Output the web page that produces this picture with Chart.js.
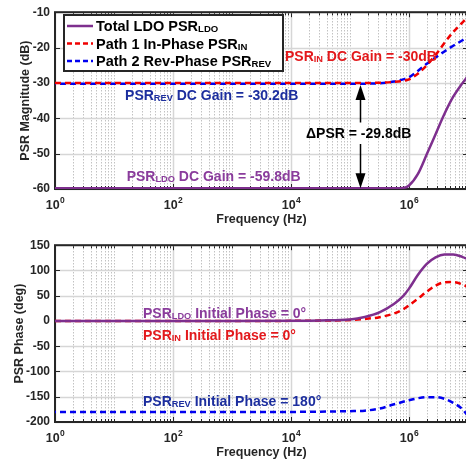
<!DOCTYPE html>
<html><head><meta charset="utf-8">
<script src="https://cdn.jsdelivr.net/npm/chart.js@4.4.0/dist/chart.umd.min.js"></script>
<style>
html,body{margin:0;padding:0;background:#fff;overflow:hidden;}
#wrap{width:466px;height:466px;overflow:hidden;position:relative;background:#fff;}
canvas{display:block;}
</style></head><body>
<div id="wrap"><canvas id="mag" width="468" height="233"></canvas><canvas id="ph" width="468" height="233"></canvas></div>
<script>
// ---------------- data ----------------
const freqHz = [1, 10, 100, 1e3, 1e4, 3.16e4, 1e5, 1.78e5, 3.16e5, 5.62e5, 7.94e5, 1e6, 1.41e6, 2e6, 2.82e6, 3.98e6, 5.62e6, 7.94e6, 1e7];
const magLdo = [-59.8,-59.8,-59.8,-59.8,-59.8,-59.8,-59.8,-59.8,-59.8,-59.8,-59.7,-59.0,-55.8,-50.2,-44.5,-38.8,-33.9,-30.2,-28.0];
const magIn  = [-30,-30,-30,-30,-30,-30,-30,-30,-29.95,-29.7,-29.4,-29.0,-27.4,-25.0,-22.1,-18.7,-15.6,-13.0,-11.3];
const magRev = [-30.2,-30.2,-30.2,-30.2,-30.2,-30.2,-30.2,-30.2,-30.1,-29.6,-29.0,-28.4,-26.6,-24.6,-22.8,-21.1,-19.5,-18.0,-17.0];
const phLdo  = [0,0,0,0,0.3,1,3,8,17,34,49,64,91,113,126,131.5,131.5,127,122];
const phIn   = [0,0,0,0,0.2,0.7,2,4,7.5,15,23,31,44,58,70,76.5,77,72.5,67];
const phRev  = [-180,-180,-180,-180,-180,-179.5,-178.5,-177.5,-173.5,-165,-160,-157,-153,-150.8,-150.8,-154,-162,-174,-188];
const xTickExponents = [0, 2, 4, 6];
const seriesNames = ['Total LDO PSR', 'Path 1 In-Phase PSR', 'Path 2 Rev-Phase PSR'];
const seriesSubs = ['LDO', 'IN', 'REV'];

// ---------------- styles ----------------
const FONT = "'Liberation Sans', Arial, Helvetica, sans-serif";
const AX = '#262626';
const C_LDO = '#7e2f8e', C_IN = '#f00000', C_REV = '#0000f0';
const T_LDO = '#8a3c9c', T_IN = '#e3191c', T_REV = '#1c2e9e';

function drawRich(ctx, parts, x, yc, color, size) {
  ctx.save();
  ctx.fillStyle = color; ctx.textBaseline = 'alphabetic'; ctx.textAlign = 'left';
  const base = yc + size * 0.358;
  let cx = x;
  parts.forEach(p => {
    const s = p.sub ? size * 0.66 : size;
    ctx.font = `bold ${s}px ${FONT}`;
    ctx.fillText(p.t, cx, base + (p.sub ? 1 : 0));
    cx += ctx.measureText(p.t).width;
  });
  ctx.restore();
}

const axesPlugin = {
  id: 'matlabAxes',
  beforeDatasetsDraw(chart) {
    const {ctx, chartArea: a, scales: {x, y}} = chart;
    ctx.save();
    const L = a.left, R = a.right, T = a.top, B = a.bottom;
    const eMax = Math.round(Math.log10(x.max));
    for (let e = 0; e <= eMax; e++) {
      for (let m = 1; m < 10; m++) {
        const v = m * Math.pow(10, e);
        if (v < x.min || v > x.max) continue;
        const px = Math.round(x.getPixelForValue(v)) + 0.5;
        const major = (m === 1 && xTickExponents.includes(e));
        ctx.beginPath();
        if (major) { ctx.setLineDash([]); ctx.strokeStyle = '#d6d6d6'; ctx.lineWidth = 1.5; }
        else { ctx.setLineDash([1.2, 1.8]); ctx.strokeStyle = '#b4b4b4'; ctx.lineWidth = 1; }
        ctx.moveTo(px, T); ctx.lineTo(px, B); ctx.stroke();
        ctx.setLineDash([]); ctx.strokeStyle = AX; ctx.lineWidth = 1;
        const len = major ? 5 : 3;
        ctx.beginPath();
        ctx.moveTo(px, B); ctx.lineTo(px, B - len);
        ctx.moveTo(px, T); ctx.lineTo(px, T + len);
        ctx.stroke();
      }
    }
    y.ticks.forEach(t => {
      const py = Math.round(y.getPixelForValue(t.value)) + 0.5;
      ctx.setLineDash([]);
      ctx.strokeStyle = '#d6d6d6'; ctx.lineWidth = 1.5;
      ctx.beginPath(); ctx.moveTo(L, py); ctx.lineTo(R, py); ctx.stroke();
      ctx.strokeStyle = AX; ctx.lineWidth = 1;
      ctx.beginPath(); ctx.moveTo(L, py); ctx.lineTo(L + 5, py); ctx.moveTo(R, py); ctx.lineTo(R - 5, py); ctx.stroke();
    });
    ctx.strokeStyle = AX; ctx.lineWidth = 2;
    ctx.strokeRect(L, T, R - L, B - T);
    ctx.restore();
  },
  afterDraw(chart) {
    const {ctx, chartArea: a, scales: {x}} = chart;
    ctx.save();
    ctx.fillStyle = AX; ctx.textBaseline = 'alphabetic';
    xTickExponents.forEach(e => {
      const px = x.getPixelForValue(Math.pow(10, e));
      ctx.font = `bold 12.5px ${FONT}`;
      const w1 = ctx.measureText('10').width;
      ctx.font = `bold 8.5px ${FONT}`;
      const w2 = ctx.measureText(String(e)).width;
      const x0 = px - (w1 + w2) / 2;
      ctx.font = `bold 12.5px ${FONT}`;
      ctx.fillText('10', x0, a.bottom + 20);
      ctx.font = `bold 8.5px ${FONT}`;
      ctx.fillText(String(e), x0 + w1 + 0.5, a.bottom + 14);
    });
    ctx.restore();
  }
};

const notes = {
  mag: [
    {x: 7.9e3, y: -22.4, c: T_IN, parts: [{t:'PSR'},{t:'IN',sub:true},{t:' DC Gain = -30dB'}]},
    {x: 15.4, y: -33.4, c: T_REV, parts: [{t:'PSR'},{t:'REV',sub:true},{t:' DC Gain = -30.2dB'}]},
    {x: 1.8e4, y: -44.2, c: '#000', parts: [{t:'\u0394PSR = -29.8dB'}]},
    {x: 16.4, y: -56.2, c: T_LDO, parts: [{t:'PSR'},{t:'LDO',sub:true},{t:' DC Gain = -59.8dB'}]}
  ],
  ph: [
    {x: 31, y: 16.5, c: T_LDO, parts: [{t:'PSR'},{t:'LDO',sub:true},{t:' Initial Phase = 0\u00b0'}]},
    {x: 31, y: -28.0, c: T_IN, parts: [{t:'PSR'},{t:'IN',sub:true},{t:' Initial Phase = 0\u00b0'}]},
    {x: 31, y: -158.5, c: T_REV, parts: [{t:'PSR'},{t:'REV',sub:true},{t:' Initial Phase = 180\u00b0'}]}
  ]
};

const notesPlugin = {
  id: 'notes',
  afterDatasetsDraw(chart) {
    const {ctx, scales: {x, y}} = chart;
    const key = chart.canvas.id;
    (notes[key] || []).forEach(n => {
      drawRich(ctx, n.parts, x.getPixelForValue(n.x), y.getPixelForValue(n.y), n.c, 14);
    });
    if (key === 'mag') {
      // double arrow between the two DC gains
      const ax = Math.round(x.getPixelForValue(1.5e5)) + 0.5;
      const yTop = y.getPixelForValue(-30.6), yBot = y.getPixelForValue(-59.8);
      const g1 = y.getPixelForValue(-41.2), g2 = y.getPixelForValue(-47.3);
      ctx.save();
      ctx.strokeStyle = '#000'; ctx.fillStyle = '#000'; ctx.lineWidth = 1.5;
      ctx.beginPath(); ctx.moveTo(ax, yTop + 8); ctx.lineTo(ax, g1); ctx.moveTo(ax, g2); ctx.lineTo(ax, yBot - 8); ctx.stroke();
      ctx.beginPath(); ctx.moveTo(ax, yTop); ctx.lineTo(ax - 5, yTop + 15); ctx.lineTo(ax + 5, yTop + 15); ctx.closePath(); ctx.fill();
      ctx.beginPath(); ctx.moveTo(ax, yBot); ctx.lineTo(ax - 5, yBot - 15); ctx.lineTo(ax + 5, yBot - 15); ctx.closePath(); ctx.fill();
      ctx.restore();
      // legend
      const bx = 64, by = 15, bw = 219, bh = 56;
      ctx.save();
      ctx.fillStyle = '#fff'; ctx.fillRect(bx, by, bw, bh);
      ctx.strokeStyle = AX; ctx.lineWidth = 2; ctx.strokeRect(bx, by, bw, bh);
      const cols = [C_LDO, C_IN, C_REV];
      const dashes = [[], [5, 3], [5, 3]];
      const rows = [26, 43.5, 61];
      rows.forEach((ry, i) => {
        ctx.strokeStyle = cols[i]; ctx.lineWidth = 2.5; ctx.setLineDash(dashes[i]);
        ctx.beginPath(); ctx.moveTo(67, ry); ctx.lineTo(93, ry); ctx.stroke();
        ctx.setLineDash([]);
        drawRich(ctx, [{t: seriesNames[i]}, {t: seriesSubs[i], sub: true}], 96, ry, '#000', 14.5);
      });
      ctx.restore();
    }
  }
};

function makeChart(id, sets, yMin, yMax, yStep, yTitle, yTitlePad) {
  return new Chart(document.getElementById(id), {
    type: 'line',
    data: {
      labels: freqHz,
      datasets: [
        {data: sets[0], borderColor: C_LDO, borderWidth: 2.5},
        {data: sets[1], borderColor: C_IN, borderWidth: 2.5, borderDash: [6, 4]},
        {data: sets[2], borderColor: C_REV, borderWidth: 2.5, borderDash: [6, 4], borderDashOffset: 5}
      ].map(d => Object.assign(d, {pointRadius: 0, fill: false, cubicInterpolationMode: 'monotone'}))
    },
    options: {
      responsive: false, animation: false, devicePixelRatio: 1,
      layout: {padding: {top: 7, left: 0, right: 0, bottom: 0}},
      plugins: {legend: {display: false}, tooltip: {enabled: false}},
      scales: {
        x: {
          type: 'logarithmic', min: 1, max: 1e7,
          grid: {display: false, drawTicks: false, tickLength: 0}, border: {display: false},
          ticks: {display: false},
          afterFit: s => { s.height = 44; },
          title: {display: true, text: 'Frequency (Hz)', color: AX, font: {family: FONT, size: 12.5, weight: 'bold'}, padding: {top: 0, bottom: 6}}
        },
        y: {
          type: 'linear', min: yMin, max: yMax,
          grid: {display: false, drawTicks: false, tickLength: 0}, border: {display: false},
          ticks: {stepSize: yStep, color: AX, padding: 5, font: {family: FONT, size: 12, weight: 'bold'}},
          afterFit: s => { s.width = 55; },
          title: {display: true, text: yTitle, color: AX, font: {family: FONT, size: 12.5, weight: 'bold'}, padding: {top: yTitlePad, bottom: 0}}
        }
      }
    },
    plugins: [axesPlugin, notesPlugin]
  });
}

// convert to xy points for log axis
function pts(arr) { return arr.map((v, i) => ({x: freqHz[i], y: v})); }
makeChart('mag', [pts(magLdo), pts(magIn), pts(magRev)], -60, -10, 10, 'PSR Magnitude (dB)', 18.5);
makeChart('ph', [pts(phLdo), pts(phIn), pts(phRev)], -200, 150, 50, 'PSR Phase (deg)', 12.5);
</script>
</body></html>
